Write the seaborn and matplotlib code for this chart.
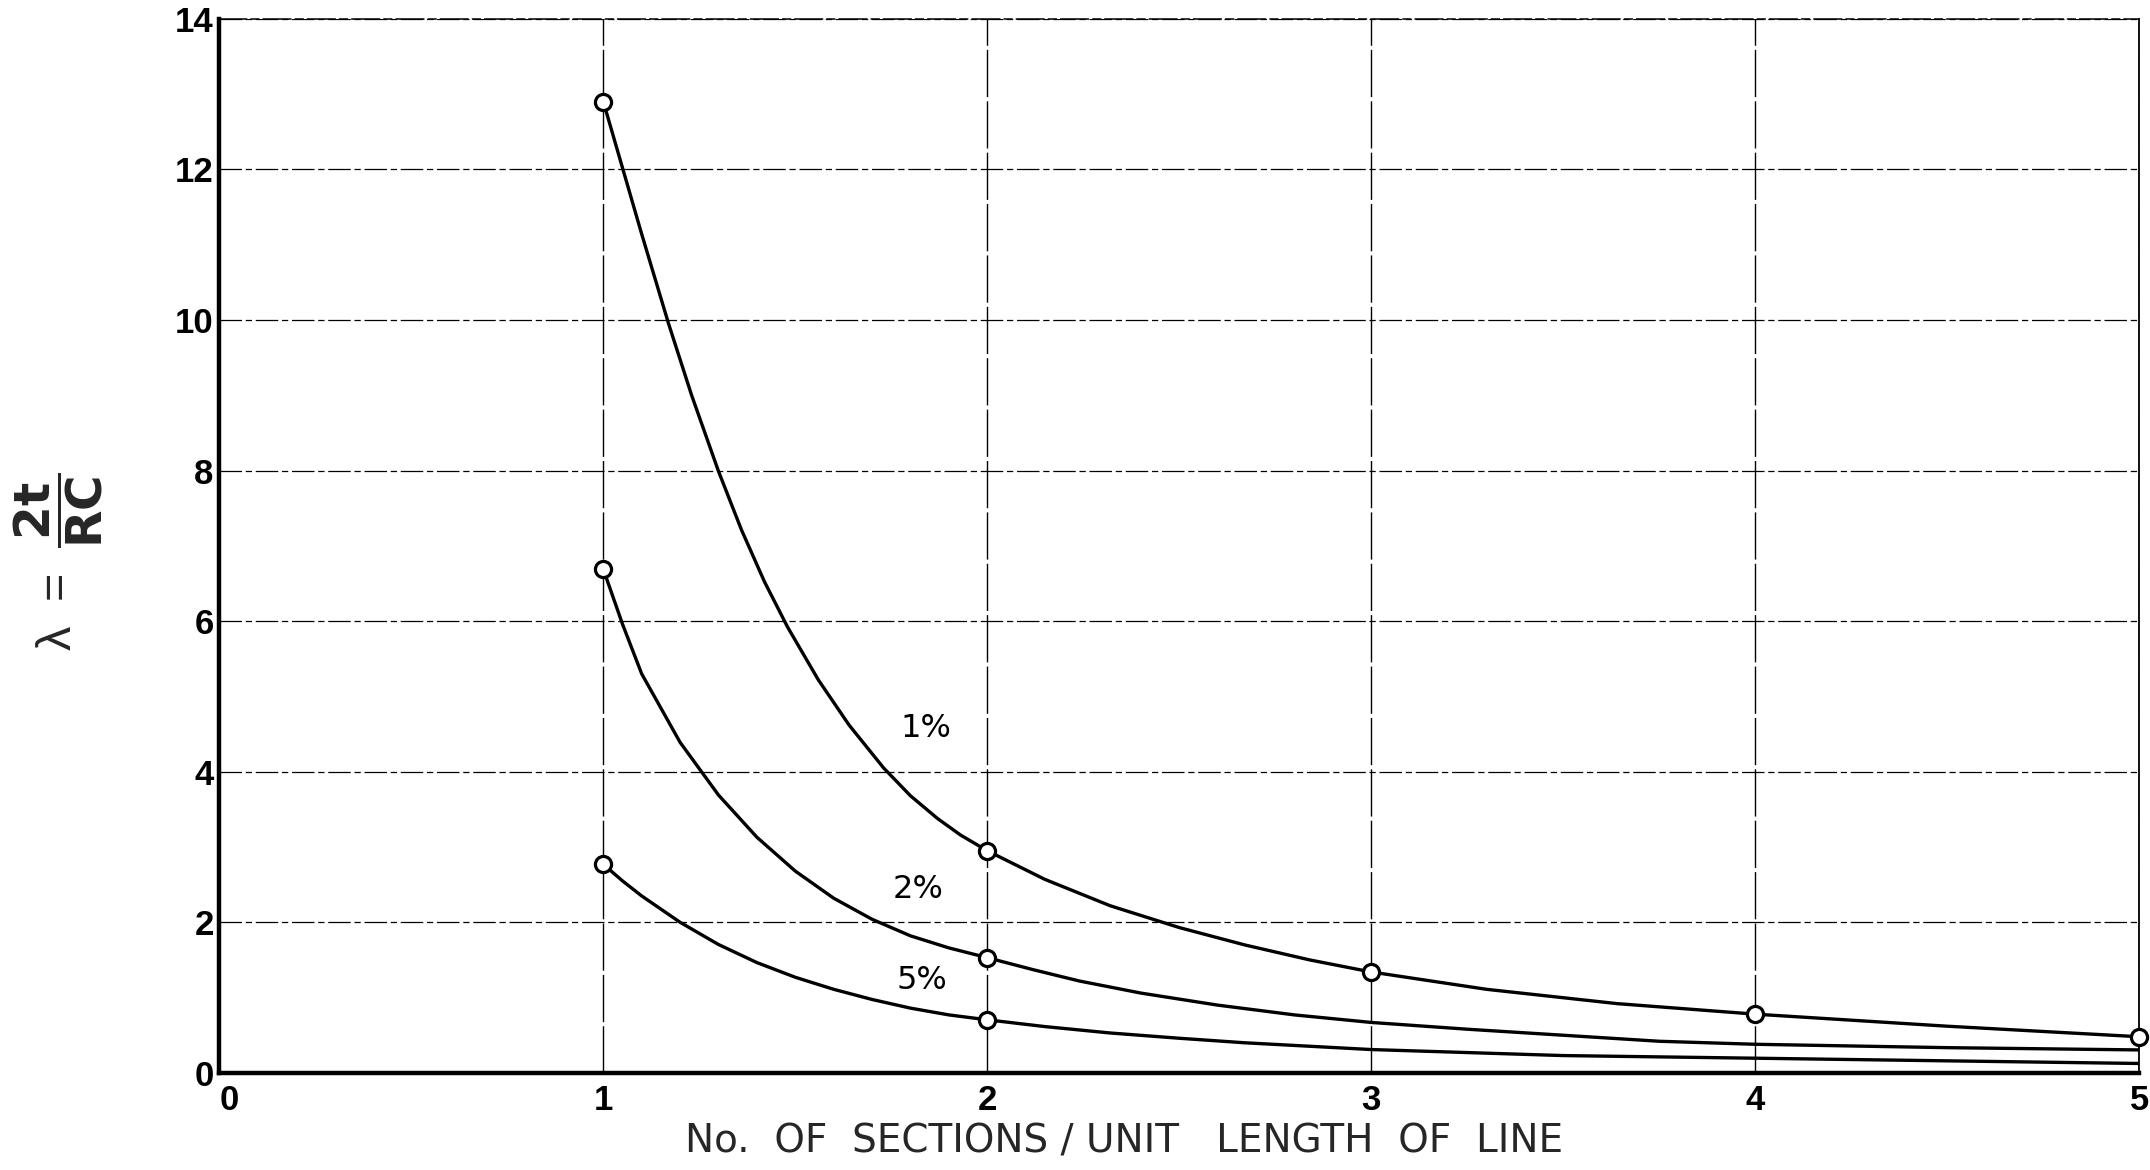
import matplotlib
matplotlib.use("Agg")
import matplotlib.pyplot as plt
import pandas as pd
import seaborn as sns

# Drawn curves of lambda = 2t/RC against sections per unit length of line
curve_1pct_x = [1.0, 1.05, 1.10, 1.17, 1.23, 1.30, 1.36, 1.42, 1.48, 1.56, 1.64, 1.73,
                1.80, 1.87, 1.93, 2.0, 2.15, 2.32, 2.50, 2.67, 2.84, 3.0, 3.30, 3.64,
                4.0, 4.5, 5.0]
curve_1pct_y = [12.9, 12.02, 11.14, 9.95, 9.0, 7.99, 7.21, 6.52, 5.92, 5.22, 4.62, 4.05,
                3.68, 3.38, 3.16, 2.95, 2.57, 2.22, 1.93, 1.70, 1.50, 1.34, 1.11, 0.92,
                0.78, 0.62, 0.48]

curve_2pct_x = [1.0, 1.05, 1.10, 1.20, 1.30, 1.40, 1.50, 1.60, 1.70, 1.80, 1.90, 2.0,
                2.12, 2.24, 2.40, 2.60, 2.80, 3.0, 3.25, 3.50, 3.75, 4.0, 4.5, 5.0]
curve_2pct_y = [6.69, 5.96, 5.30, 4.39, 3.69, 3.13, 2.68, 2.32, 2.04, 1.82, 1.66, 1.53,
                1.37, 1.22, 1.06, 0.90, 0.77, 0.67, 0.58, 0.50, 0.42, 0.38, 0.335, 0.305]

curve_5pct_x = [1.0, 1.05, 1.10, 1.20, 1.30, 1.40, 1.50, 1.60, 1.70, 1.80, 1.90, 2.0,
                2.15, 2.32, 2.50, 2.67, 3.0, 3.5, 4.0, 4.5, 5.0]
curve_5pct_y = [2.77, 2.55, 2.35, 2.0, 1.705, 1.465, 1.27, 1.11, 0.975, 0.86, 0.77, 0.705,
                0.615, 0.53, 0.46, 0.40, 0.31, 0.23, 0.195, 0.16, 0.125]

# Computed points marked with circles
pts_1pct_x = [1, 2, 3, 4, 5]
pts_1pct_y = [12.9, 2.95, 1.34, 0.78, 0.48]
pts_2pct_x = [1, 2]
pts_2pct_y = [6.69, 1.53]
pts_5pct_x = [1, 2]
pts_5pct_y = [2.77, 0.705]

series_labels = ["1%", "2%", "5%"]
label_x = [1.84, 1.82, 1.83]
label_y = [4.57, 2.43, 1.23]

x_ticks = [0, 1, 2, 3, 4, 5]
y_ticks = [0, 2, 4, 6, 8, 10, 12, 14]

x_title = "No.  OF  SECTIONS / UNIT   LENGTH  OF  LINE"
y_title = r"$\lambda\ =\ \dfrac{\mathbf{2t}}{\mathbf{RC}}$"

curves = pd.concat([
    pd.DataFrame({"x": curve_1pct_x, "y": curve_1pct_y, "series": series_labels[0]}),
    pd.DataFrame({"x": curve_2pct_x, "y": curve_2pct_y, "series": series_labels[1]}),
    pd.DataFrame({"x": curve_5pct_x, "y": curve_5pct_y, "series": series_labels[2]}),
], ignore_index=True)

points = pd.concat([
    pd.DataFrame({"x": pts_1pct_x, "y": pts_1pct_y, "series": series_labels[0]}),
    pd.DataFrame({"x": pts_2pct_x, "y": pts_2pct_y, "series": series_labels[1]}),
    pd.DataFrame({"x": pts_5pct_x, "y": pts_5pct_y, "series": series_labels[2]}),
], ignore_index=True)

sns.set_style("white")
plt.rcParams["font.family"] = ["Liberation Sans", "DejaVu Sans"]
plt.rcParams["mathtext.fontset"] = "custom"
plt.rcParams["mathtext.rm"] = "DejaVu Sans"
plt.rcParams["mathtext.it"] = "DejaVu Sans"
plt.rcParams["mathtext.bf"] = "DejaVu Sans:bold"
plt.rcParams["mathtext.default"] = "regular"

fig = plt.figure(figsize=(21.5, 11.7), dpi=100)
ax = fig.add_axes([0.102, 0.083, 0.893, 0.901])

sns.lineplot(data=curves, x="x", y="y", hue="series", units="series",
             palette=["black"] * 3, estimator=None, sort=False, legend=False,
             linewidth=2.4, ax=ax)
for line in ax.get_lines():
    line.set_solid_joinstyle("round")
    line.set_solid_capstyle("round")
sns.scatterplot(data=points, x="x", y="y", marker="o", s=135, color="white",
                edgecolor="black", linewidth=2.3, legend=False, zorder=5,
                clip_on=False, ax=ax)

for txt, lx, ly in zip(series_labels, label_x, label_y):
    ax.text(lx, ly, txt, fontsize=23, family=["DejaVu Sans"], ha="center",
            va="center", color="black")

ax.set_xlim(0, 5)
ax.set_ylim(0, 14)
ax.set_xticks(x_ticks)
ax.set_yticks(y_ticks)
ax.set_xticklabels([str(v) for v in x_ticks], fontsize=25, fontweight="bold")
ax.set_yticklabels([str(v) for v in y_ticks], fontsize=25, fontweight="bold")
ax.get_xticklabels()[0].set_ha("left")
ax.tick_params(axis="both", length=0, colors="black")
ax.tick_params(axis="y", pad=4)
ax.tick_params(axis="x", pad=8)

# Ruled grid: broken horizontal rules, long-dash verticals
ax.set_axisbelow(True)
ax.yaxis.grid(True, color="black", linewidth=0.9, linestyle=(0, (18, 3, 5, 3)))
ax.xaxis.grid(True, color="black", linewidth=1.0, linestyle=(0, (34, 3)))

for side in ("left", "bottom"):
    ax.spines[side].set_linewidth(3.2)
    ax.spines[side].set_color("black")
ax.spines["top"].set_linewidth(1.1)
ax.spines["top"].set_linestyle((0, (18, 3, 5, 3)))
ax.spines["right"].set_linewidth(1.3)
for side in ("top", "right"):
    ax.spines[side].set_color("black")

ax.set_xlabel(x_title, fontsize=28, family=["DejaVu Sans"])
ax.xaxis.set_label_coords(0.471, -0.065)
ax.xaxis.label.set_va("center")
ax.set_ylabel(y_title, fontsize=35)
ax.yaxis.set_label_coords(-0.084, 0.485)
ax.yaxis.label.set_va("center")

fig.savefig("out.png", dpi=100, facecolor="white")
